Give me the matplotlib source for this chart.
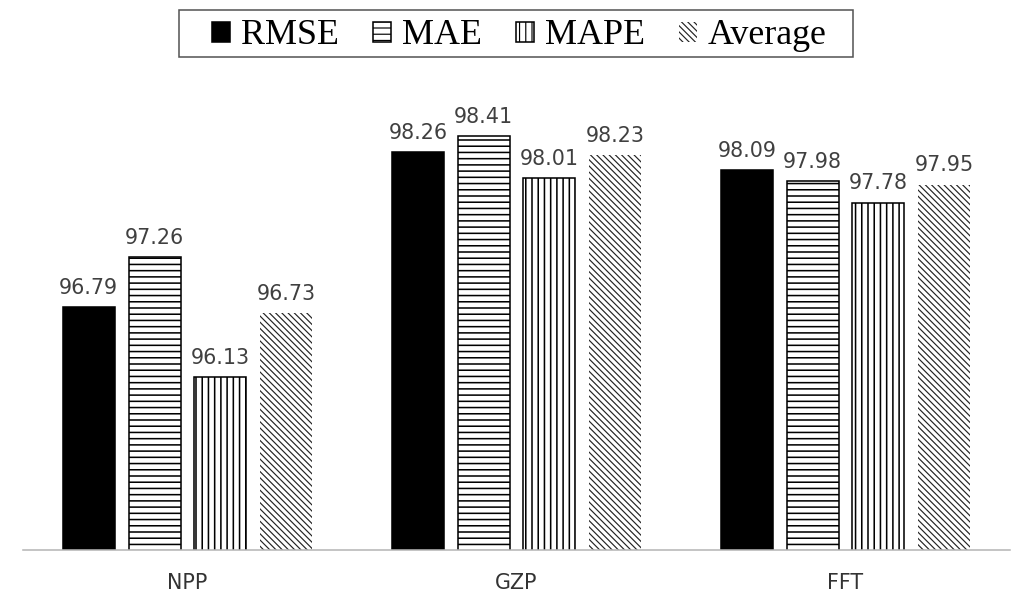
import numpy as np
import matplotlib
matplotlib.use("Agg")
import matplotlib.pyplot as plt
from matplotlib.patches import Rectangle

categories = ["NPP", "GZP", "FFT"]
series_names = ["RMSE", "MAE", "MAPE", "Average"]
rmse = [96.79, 98.26, 98.09]
mae = [97.26, 98.41, 97.98]
mape = [96.13, 98.01, 97.78]
average = [96.73, 98.23, 97.95]
series_values = [rmse, mae, mape, average]

DPI = 112.5
W, H = 1013, 598
fig = plt.figure(figsize=(W / DPI, H / DPI), dpi=DPI)
ax = fig.add_axes([23 / W, (H - 550) / H, 987 / W, (550 - 80) / H])

styles = [
    dict(facecolor="black", edgecolor="black", linewidth=1.0, hatch=None, hlw=1.0),
    dict(facecolor="white", edgecolor="black", linewidth=1.0, hatch="---", hlw=1.0),
    dict(facecolor="white", edgecolor="black", linewidth=1.0, hatch="|||", hlw=1.0),
    dict(facecolor="white", edgecolor="#222222", linewidth=0.0, hatch="\\" * 6, hlw=0.75),
]

x = np.arange(len(categories))
offsets = [-0.3, -0.1, 0.1, 0.3]
width = 0.158
handles = []
for name, vals, off, st in zip(series_names, series_values, offsets, styles):
    plt.rcParams["hatch.linewidth"] = st["hlw"]
    cont = ax.bar(x + off, vals, width, bottom=0, label=name,
                  facecolor=st["facecolor"], edgecolor=st["edgecolor"],
                  linewidth=st["linewidth"], hatch=st["hatch"])
    for p in cont.patches:
        if hasattr(p, "set_hatch_linewidth"):
            p.set_hatch_linewidth(st["hlw"])
    ax.bar_label(cont, fmt="%.2f", padding=5.8, fontsize=13.2, color="#404040",
                 family="DejaVu Sans")
    handles.append(cont)

ax.set_ylim(94.49, 98.94)
ax.set_xlim(-0.5, 2.5)
ax.set_xticks(x)
ax.set_xticklabels(categories, fontsize=13.2, color="#333333", family="DejaVu Sans")
ax.tick_params(axis="x", length=0, pad=14.5)
ax.set_yticks([])
for s in ["top", "left", "right"]:
    ax.spines[s].set_visible(False)
ax.spines["bottom"].set_color("#b5b5b5")
ax.spines["bottom"].set_linewidth(1.0)

leg = fig.legend(handles=handles, labels=series_names, loc="center",
                 bbox_to_anchor=(519.5 / W, 1 - 36 / H),
                 ncol=4, frameon=False,
                 prop={"family": "Liberation Serif", "size": 23},
                 handlelength=0.5, handleheight=0.5, handletextpad=0.3,
                 columnspacing=0.95, borderpad=0.1)

fig.patches.append(Rectangle((179 / W, 1 - 57 / H), (853 - 179) / W, 47 / H,
                             transform=fig.transFigure, fill=False,
                             edgecolor="#555555", linewidth=1.0))

fig.savefig("out.png", dpi=DPI)
